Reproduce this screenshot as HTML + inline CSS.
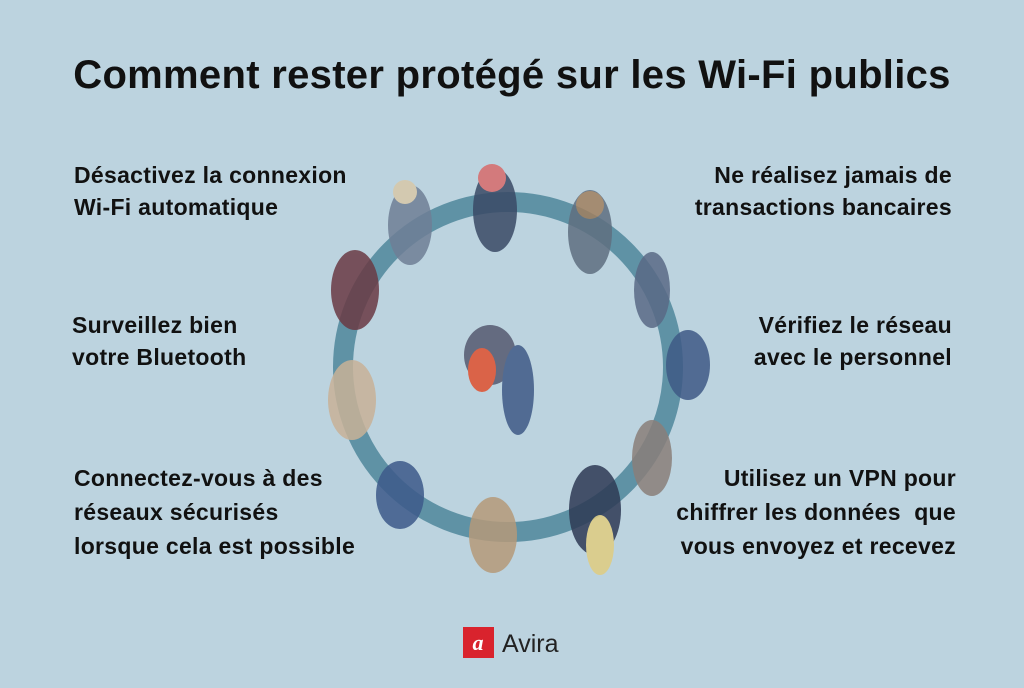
<!DOCTYPE html>
<html><head><meta charset="utf-8"><style>
html,body{margin:0;padding:0}
body{width:1024px;height:688px;background:#bcd3df;position:relative;overflow:hidden;font-family:"Liberation Sans",sans-serif;color:#111}
.t{position:absolute;font-weight:bold;font-size:23px;line-height:32px;letter-spacing:0.3px}
.r{text-align:right}
h1{position:absolute;left:0;width:1024px;top:53px;margin:0;text-align:center;font-size:40px;font-weight:bold;letter-spacing:0.3px}
</style></head><body>
<h1>Comment rester protégé sur les Wi-Fi publics</h1>
<div class="t" style="left:74px;top:159px">Désactivez la connexion<br>Wi-Fi automatique</div>
<div class="t" style="left:72px;top:309px">Surveillez bien<br>votre Bluetooth</div>
<div class="t" style="left:74px;top:461px;line-height:34px">Connectez-vous à des<br>réseaux sécurisés<br>lorsque cela est possible</div>
<div class="t r" style="right:72px;top:159px">Ne réalisez jamais de<br>transactions bancaires</div>
<div class="t r" style="right:72px;top:309px">Vérifiez le réseau<br>avec le personnel</div>
<div class="t r" style="right:68px;top:461px;line-height:34px">Utilisez un VPN pour<br>chiffrer les données&nbsp; que<br>vous envoyez et recevez</div>
<svg width="1024" height="688" style="position:absolute;left:0;top:0">
<circle cx="508" cy="367" r="165" fill="none" stroke="#5f92a5" stroke-width="20"/>
<g opacity="0.85">
<ellipse cx="495" cy="210" rx="22" ry="42" fill="#3a4a66"/>
<circle cx="492" cy="178" r="14" fill="#d86b6b"/>
<ellipse cx="410" cy="225" rx="22" ry="40" fill="#6f7f96"/>
<circle cx="405" cy="192" r="12" fill="#d8c8a8"/>
<ellipse cx="590" cy="232" rx="22" ry="42" fill="#5f6f80"/>
<circle cx="590" cy="205" r="14" fill="#a08060"/>
<ellipse cx="652" cy="290" rx="18" ry="38" fill="#5a6a86"/>
<ellipse cx="355" cy="290" rx="24" ry="40" fill="#6a3a44"/>
<ellipse cx="688" cy="365" rx="22" ry="35" fill="#3f5a86"/>
<ellipse cx="352" cy="400" rx="24" ry="40" fill="#c8b298"/>
<ellipse cx="652" cy="458" rx="20" ry="38" fill="#8a7f7a"/>
<ellipse cx="400" cy="495" rx="24" ry="34" fill="#3d5a8a"/>
<ellipse cx="595" cy="510" rx="26" ry="45" fill="#2e3a55"/>
<ellipse cx="600" cy="545" rx="14" ry="30" fill="#e0cc80"/>
<ellipse cx="493" cy="535" rx="24" ry="38" fill="#b59a7a"/>
<ellipse cx="490" cy="355" rx="26" ry="30" fill="#555a70"/>
<ellipse cx="482" cy="370" rx="14" ry="22" fill="#e0502e"/>
<ellipse cx="518" cy="390" rx="16" ry="45" fill="#3f5a86"/>
</g>
<rect x="463" y="627" width="31" height="31" fill="#d9232d"/>
<text x="478" y="650" text-anchor="middle" fill="#fff" font-family="Liberation Serif,serif" font-style="italic" font-size="22" font-weight="bold">ɑ</text>
<text x="502" y="652" font-family="Liberation Sans,sans-serif" font-size="25" fill="#222">Avira</text>
</svg>
</body></html>
